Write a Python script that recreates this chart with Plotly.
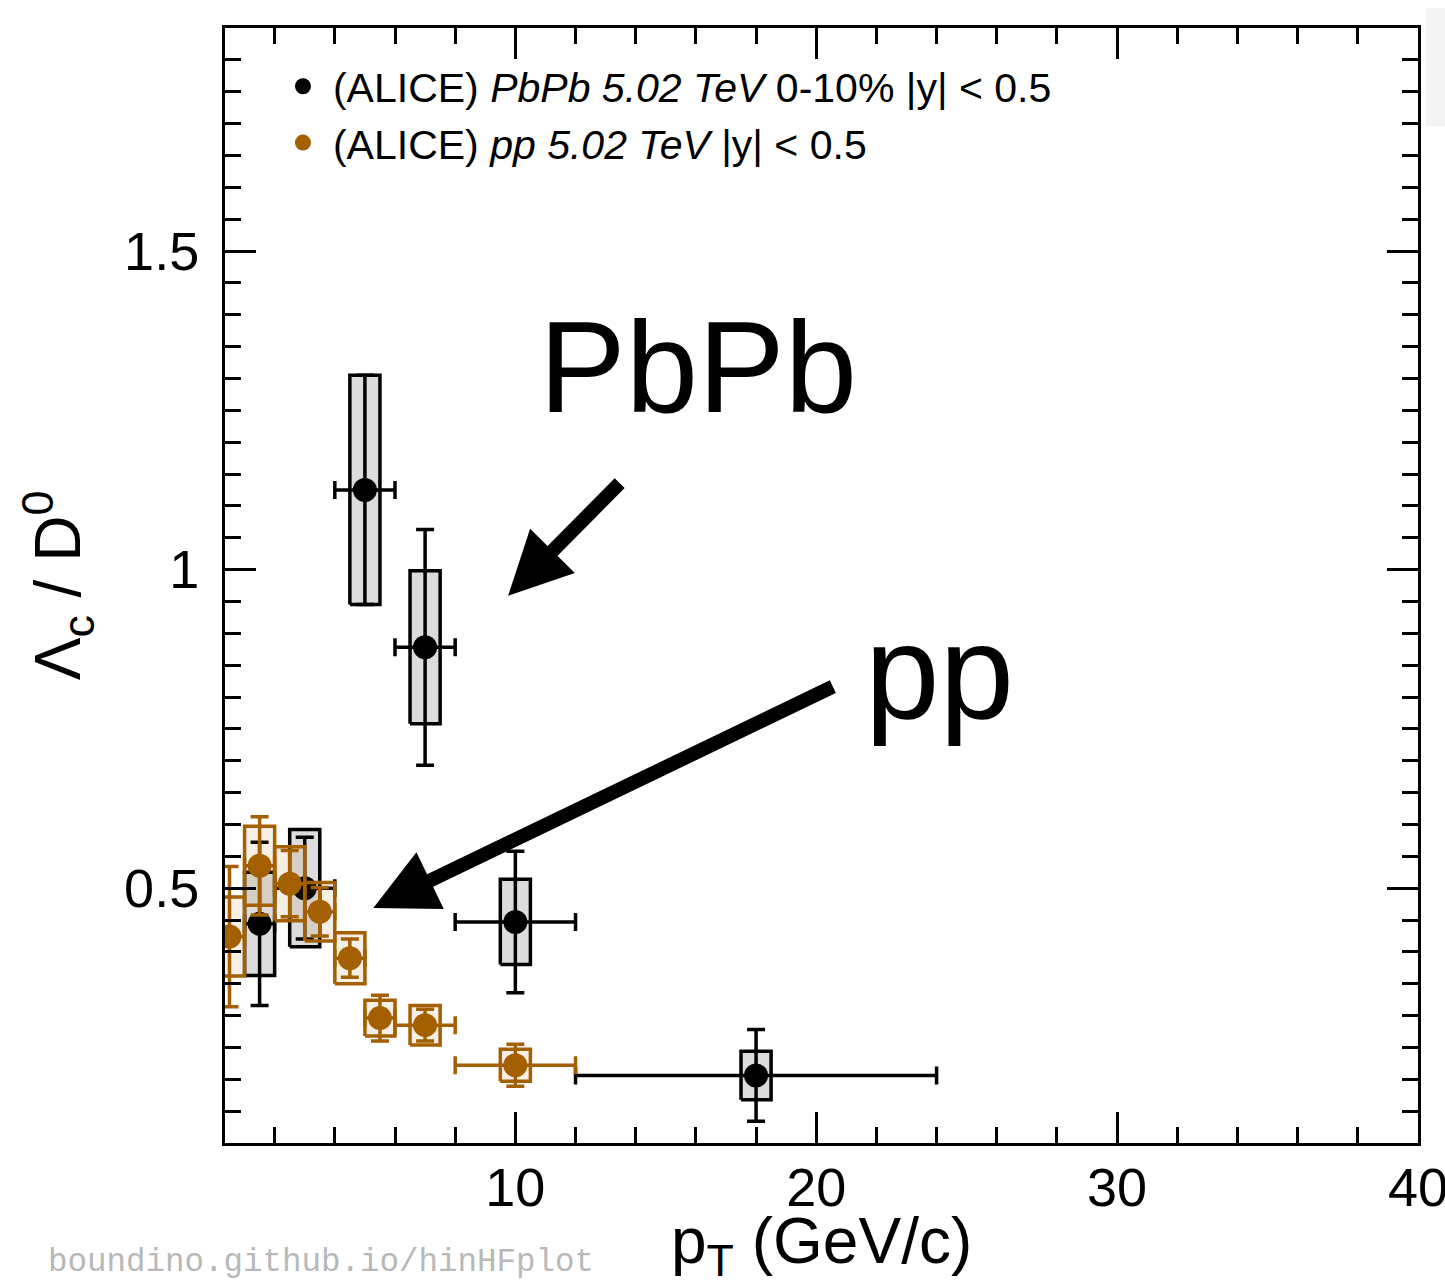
import plotly.graph_objects as go

# ---------------- data ----------------
pbpb_pt = [1.5, 3, 5, 7, 10, 18]
pbpb_pt_err = [0.5, 1, 1, 1, 2, 6]
pbpb_val = [0.444, 0.50, 1.125, 0.878, 0.447, 0.206]
pbpb_stat_up = [0.128, 0.08, 0.18, 0.185, 0.111, 0.072]
pbpb_stat_dn = [0.128, 0.08, 0.18, 0.185, 0.111, 0.072]
pbpb_syst = [0.081, 0.092, 0.18, 0.12, 0.067, 0.038]

pp_pt = [0.5, 1.5, 2.5, 3.5, 4.5, 5.5, 7, 10]
pp_pt_err = [0.5, 0.5, 0.5, 0.5, 0.5, 0.5, 1, 2]
pp_val = [0.424, 0.535, 0.507, 0.463, 0.39, 0.296, 0.285, 0.222]
pp_stat = [0.11, 0.077, 0.052, 0.038, 0.03, 0.036, 0.025, 0.033]
pp_syst = [0.062, 0.062, 0.058, 0.046, 0.04, 0.028, 0.031, 0.025]

syst_halfwidth = 0.5

x_ticks = [10, 20, 30, 40]
y_ticks = [0.5, 1, 1.5]

BLACK = "black"
ORANGE = "#a35f00"
FONT = "Liberation Sans, Arial, Helvetica, sans-serif"


def boxes(xs, ys, es, hw):
    bx, by = [], []
    for x, y, e in zip(xs, ys, es):
        bx += [x - hw, x + hw, x + hw, x - hw, x - hw, None]
        by += [y - e, y - e, y + e, y + e, y - e, None]
    return bx, by


fig = go.Figure()

# PbPb systematic boxes
bx, by = boxes(pbpb_pt, pbpb_val, pbpb_syst, syst_halfwidth)
fig.add_trace(go.Scatter(x=bx, y=by, mode="lines", fill="toself",
                         fillcolor="#dcdcdc", line=dict(color=BLACK, width=3.5),
                         showlegend=False, hoverinfo="skip"))
# PbPb points
fig.add_trace(go.Scatter(
    x=pbpb_pt, y=pbpb_val, mode="markers",
    name="(ALICE) <i>PbPb 5.02 TeV</i> 0-10% |y| < 0.5",
    marker=dict(color=BLACK, size=24, symbol="circle"),
    error_x=dict(type="data", array=pbpb_pt_err, color=BLACK, thickness=3.5, width=9),
    error_y=dict(type="data", array=pbpb_stat_up, arrayminus=pbpb_stat_dn,
                 symmetric=False, color=BLACK, thickness=3.5, width=9),
    legendgroup="a",
))

# pp systematic boxes
bx, by = boxes(pp_pt, pp_val, pp_syst, syst_halfwidth)
fig.add_trace(go.Scatter(x=bx, y=by, mode="lines", fill="toself",
                         fillcolor="rgba(163,95,0,0.1)", line=dict(color=ORANGE, width=3.5),
                         showlegend=False, hoverinfo="skip"))
# pp points
fig.add_trace(go.Scatter(
    x=pp_pt, y=pp_val, mode="markers",
    name="(ALICE) <i>pp 5.02 TeV</i> |y| < 0.5",
    marker=dict(color=ORANGE, size=24, symbol="circle"),
    error_x=dict(type="data", array=pp_pt_err, color=ORANGE, thickness=3.5, width=9),
    error_y=dict(type="data", array=pp_stat, color=ORANGE, thickness=3.5, width=9),
    legendgroup="b",
))

axis_common = dict(
    showline=True, linecolor=BLACK, linewidth=3, mirror="ticks",
    ticks="inside", ticklen=31, tickwidth=2.5, tickcolor=BLACK,
    showgrid=False, zeroline=False, automargin=False,
    tickfont=dict(family=FONT, size=54, color=BLACK),
)

fig.update_xaxes(
    range=[0.35, 40], tickvals=x_ticks, ticktext=[str(v) for v in x_ticks],
    minor=dict(ticks="inside", ticklen=16, tickwidth=2.5, tickcolor=BLACK, dtick=2, tick0=0),
    ticklabelstandoff=-5, ticklabeloverflow="allow",
    **axis_common,
)
fig.update_yaxes(
    range=[0.1, 1.85], tickvals=y_ticks, ticktext=["0.5", "1", "1.5"],
    minor=dict(ticks="inside", ticklen=16, tickwidth=2.5, tickcolor=BLACK, dtick=0.05, tick0=0),
    title=dict(text="Λ<sub>c</sub> / D<sup>0</sup>", font=dict(family=FONT, size=64, color=BLACK), standoff=23),
    ticklabelstandoff=12,
    **axis_common,
)

# x axis title (placed as annotation below the tick labels)
fig.add_annotation(x=0.5, y=-0.0538, xref="paper", yref="paper", xanchor="center", yanchor="top",
                   text="p<sub>T</sub> (GeV/c)", showarrow=False,
                   font=dict(family=FONT, size=64, color=BLACK))

# big labels and arrows
fig.add_annotation(x=16.06, y=1.318, xref="x", yref="y", text="PbPb", showarrow=False,
                   font=dict(family=FONT, size=130, color=BLACK))
fig.add_annotation(x=24.1, y=0.84, xref="x", yref="y", text="pp", showarrow=False,
                   font=dict(family=FONT, size=134, color=BLACK))
fig.add_annotation(x=9.76, y=0.959, xref="x", yref="y", ax=113, ay=-114, text="",
                   showarrow=True, arrowhead=2, arrowwidth=14, arrowsize=0.9, arrowcolor=BLACK)
fig.add_annotation(x=5.28, y=0.469, xref="x", yref="y", ax=461, ay=-222, text="",
                   showarrow=True, arrowhead=2, arrowwidth=14, arrowsize=0.9, arrowcolor=BLACK)

# watermark
fig.add_annotation(x=-0.1497, y=-0.1076, xref="paper", yref="paper", xanchor="left", yanchor="middle",
                   text="boundino.github.io/hinHFplot", showarrow=False,
                   font=dict(family="Liberation Mono, Courier New, monospace", size=32.5, color="#b8b8b8"))

# grey panel fragment top right
fig.add_shape(type="rect", xref="paper", yref="paper", x0=1.0067, x1=1.05, y0=0.912, y1=1.018,
              fillcolor="#f4f4f4", line=dict(width=0), layer="below")

fig.update_layout(
    width=1445, height=1283,
    margin=dict(l=225, r=27, t=28, b=140, autoexpand=False),
    paper_bgcolor="white", plot_bgcolor="white",
    font=dict(family=FONT, color=BLACK),
    showlegend=True,
    legend=dict(x=0.0402, y=0.9775, xanchor="left", yanchor="top",
                font=dict(family=FONT, size=41, color=BLACK),
                bgcolor="rgba(0,0,0,0)", borderwidth=0, itemwidth=50,
                itemsizing="trace", traceorder="grouped", tracegroupgap=0),
)

fig.write_html("out.html")
